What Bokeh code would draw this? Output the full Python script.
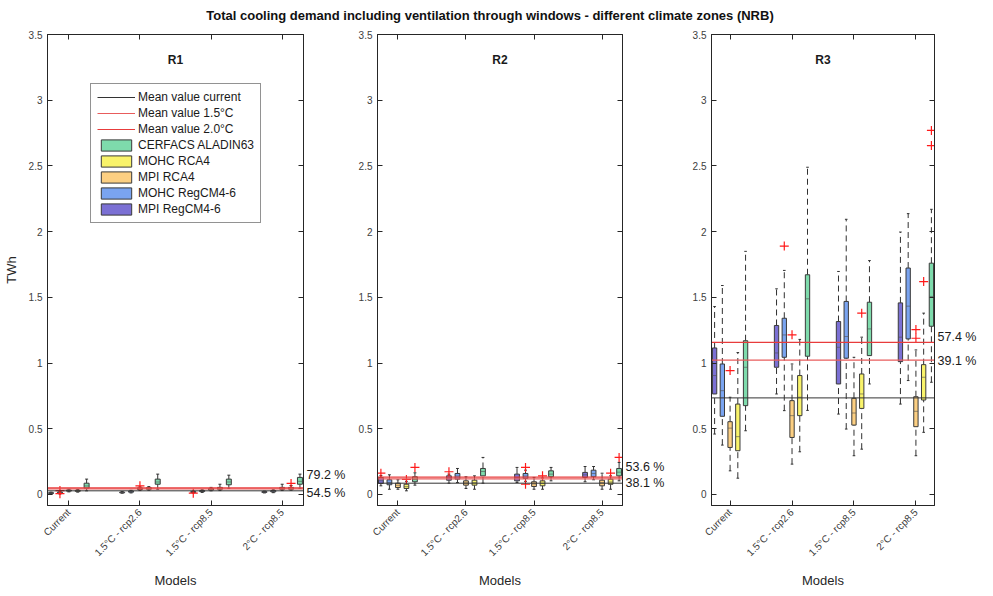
import math
from bokeh.plotting import figure
from bokeh.models import (Range1d, FixedTicker, NumeralTickFormatter, LinearAxis, Label,
                          Legend, LegendItem, Div, ColumnDataSource)
from bokeh.layouts import column, row
from bokeh.embed import file_html
from bokeh.resources import INLINE

# ---------------- data ----------------
TITLE = "Total cooling demand including ventilation through windows - different climate zones (NRB)"
REGIONS = ["R1", "R2", "R3"]
SCENARIOS = ["Current", "1.5°C - rcp2.6", "1.5°C - rcp8.5", "2°C - rcp8.5"]
# box order inside each scenario group (left -> right)
MODELS = ["MPI RegCM4-6", "MOHC RegCM4-6", "MPI RCA4", "MOHC RCA4", "CERFACS ALADIN63"]
MODEL_COLORS = ["#7b70d4", "#7aa4f0", "#fccf82", "#f9f36a", "#7edbac"]
LEGEND_MODELS = ["CERFACS ALADIN63", "MOHC RCA4", "MPI RCA4", "MOHC RegCM4-6", "MPI RegCM4-6"]

# values listed scenario by scenario, 5 models each (TWh)
R1_LO  = [0.003, 0.004, 0.020, 0.018, 0.028,  0.010, 0.012, 0.030, 0.032, 0.040,  0.012, 0.016, 0.028, 0.030, 0.046,  0.012, 0.014, 0.030, 0.032, 0.046]
R1_Q1  = [0.008, 0.010, 0.026, 0.024, 0.048,  0.013, 0.018, 0.038, 0.040, 0.078,  0.016, 0.022, 0.034, 0.040, 0.074,  0.016, 0.020, 0.040, 0.040, 0.078]
R1_MED = [0.011, 0.014, 0.030, 0.028, 0.065,  0.015, 0.022, 0.044, 0.046, 0.095,  0.019, 0.026, 0.040, 0.046, 0.095,  0.019, 0.025, 0.046, 0.046, 0.100]
R1_Q3  = [0.014, 0.018, 0.034, 0.032, 0.086,  0.018, 0.026, 0.050, 0.052, 0.117,  0.022, 0.030, 0.046, 0.054, 0.117,  0.022, 0.030, 0.054, 0.054, 0.130]
R1_HI  = [0.018, 0.022, 0.040, 0.038, 0.117,  0.022, 0.032, 0.058, 0.060, 0.155,  0.026, 0.036, 0.054, 0.078, 0.147,  0.026, 0.036, 0.078, 0.068, 0.155]
R1_OUT_GROUP = [0, 0, 1, 2, 3]
R1_OUT_MODEL = [1, 1, 2, 0, 3]
R1_OUT_VALUE = [0.030, 0.006, 0.066, 0.010, 0.084]

R2_LO  = [0.066, 0.040, 0.040, 0.028, 0.071,  0.086, 0.091, 0.046, 0.040, 0.086,  0.091, 0.100, 0.040, 0.040, 0.104,  0.097, 0.112, 0.040, 0.040, 0.104]
R2_Q1  = [0.084, 0.074, 0.053, 0.046, 0.097,  0.109, 0.117, 0.071, 0.071, 0.142,  0.104, 0.122, 0.061, 0.066, 0.135,  0.130, 0.135, 0.066, 0.078, 0.142]
R2_MED = [0.105, 0.090, 0.070, 0.060, 0.115,  0.125, 0.140, 0.088, 0.090, 0.175,  0.130, 0.140, 0.080, 0.085, 0.155,  0.150, 0.160, 0.090, 0.095, 0.170]
R2_Q3  = [0.130, 0.112, 0.086, 0.078, 0.135,  0.142, 0.160, 0.104, 0.109, 0.198,  0.155, 0.160, 0.097, 0.104, 0.180,  0.168, 0.185, 0.109, 0.117, 0.198]
R2_HI  = [0.145, 0.150, 0.112, 0.100, 0.165,  0.155, 0.198, 0.135, 0.142, 0.282,  0.206, 0.185, 0.130, 0.125, 0.206,  0.213, 0.213, 0.162, 0.142, 0.244]
R2_OUT_GROUP = [0, 0, 0, 1, 2, 2, 2, 3, 3]
R2_OUT_MODEL = [0, 3, 4, 0, 1, 1, 3, 3, 4]
R2_OUT_VALUE = [0.162, 0.115, 0.206, 0.173, 0.206, 0.078, 0.142, 0.162, 0.282]

R3_LO  = [0.460, 0.376, 0.180, 0.124, 0.485,  0.765, 0.638, 0.231, 0.325, 0.640,  0.612, 0.498, 0.295, 0.345, 0.841,  0.688, 0.867, 0.295, 0.473, 0.854]
R3_Q1  = [0.765, 0.595, 0.358, 0.333, 0.676,  0.968, 1.044, 0.434, 0.600, 1.052,  0.841, 1.037, 0.528, 0.655, 1.057,  1.011, 1.184, 0.516, 0.719, 1.280]
R3_MED = [0.905, 0.790, 0.505, 0.440, 0.968,  1.077, 1.214, 0.600, 0.740, 1.489,  1.120, 1.202, 0.620, 0.765, 1.260,  1.197, 1.433, 0.633, 0.892, 1.507]
R3_Q3  = [1.115, 0.993, 0.554, 0.688, 1.170,  1.286, 1.341, 0.714, 0.905, 1.672,  1.316, 1.469, 0.732, 0.917, 1.463,  1.458, 1.723, 0.744, 0.988, 1.760]
R3_HI  = [1.430, 1.590, 0.740, 1.080, 1.850,  1.565, 1.705, 0.993, 1.180, 2.490,  1.697, 2.094, 1.044, 1.197, 1.780,  1.997, 2.137, 1.100, 1.380, 2.170]
R3_OUT_GROUP = [0, 1, 1, 2, 3, 3, 3, 3, 3]
R3_OUT_MODEL = [2, 1, 2, 3, 2, 2, 3, 4, 4]
R3_OUT_VALUE = [0.943, 1.890, 1.215, 1.380, 1.255, 1.189, 1.620, 2.770, 2.655]

MEAN_CURRENT = [0.028, 0.086, 0.735]
MEAN_15 = [0.0433, 0.1188, 1.022]
MEAN_20 = [0.0502, 0.1321, 1.157]
PCT_15 = ["54.5 %", "38.1 %", "39.1 %"]
PCT_20 = ["79.2 %", "53.6 %", "57.4 %"]

# ---------------- layout / style ----------------
FONT = "Liberation Sans"
AXC = "#262626"
XLIM = (0.7, 4.3)
YLIM = (-0.0837, 3.5)
YTICKS = [0, 0.5, 1, 1.5, 2, 2.5, 3, 3.5]
OFFS = [-0.25, -0.125, 0.0, 0.125, 0.25]
BOXW = 0.07
TOP, FRAME_H, BOTTOM = 5, 471, 84
PANEL_LEFT = [43, 22, 37]
PANEL_FRAME = [256, 245, 223]
PANEL_RIGHT = [52, 52, 44]
PCT_LABEL_Y = [(0.008, 0.145), (0.091, 0.213), (1.013, 1.196)]


def make_panel(k, lo, q1, med, q3, hi, og, om, ov):
    left, fw, right = PANEL_LEFT[k], PANEL_FRAME[k], PANEL_RIGHT[k]
    p = figure(frame_width=fw, frame_height=FRAME_H,
               x_range=Range1d(*XLIM), y_range=Range1d(*YLIM),
               output_backend="svg", toolbar_location=None,
               min_border_left=left, min_border_right=right,
               min_border_top=TOP, min_border_bottom=BOTTOM)
    p.xgrid.visible = False
    p.ygrid.visible = False
    p.outline_line_color = AXC
    p.outline_line_width = 1
    p.outline_line_alpha = 1

    xa = p.xaxis[0]
    xa.ticker = FixedTicker(ticks=[1, 2, 3, 4])
    xa.major_label_overrides = {i + 1: s for i, s in enumerate(SCENARIOS)}
    xa.major_label_orientation = math.pi / 4
    xa.axis_label = "Models"
    ya = p.yaxis[0]
    ya.ticker = FixedTicker(ticks=YTICKS)
    ya.formatter = NumeralTickFormatter(format="0.[0]")
    if k == 0:
        ya.axis_label = "TWh"
    for ax in (xa, ya):
        ax.major_tick_in = 5
        ax.major_tick_out = 0
        ax.minor_tick_line_color = None
        ax.axis_line_color = AXC
        ax.major_tick_line_color = AXC
        ax.major_label_text_font = FONT
        ax.major_label_text_font_size = "10px"
        ax.major_label_text_color = "#404040"
        ax.major_label_standoff = 5
        ax.axis_label_text_font = FONT
        ax.axis_label_text_font_size = "13px"
        ax.axis_label_text_font_style = "normal"
        ax.axis_label_text_color = AXC
        ax.axis_label_standoff = 8
    ya.axis_label_standoff = 7

    # box ticks on top edge (no labels)
    top_ax = LinearAxis(ticker=FixedTicker(ticks=[], minor_ticks=[1, 2, 3, 4]),
                        major_label_standoff=0, major_tick_in=0, major_tick_out=0,
                        minor_tick_in=5, minor_tick_out=0, minor_tick_line_color=AXC,
                        axis_line_color=AXC)
    p.add_layout(top_ax, "above")
    # right edge: tick marks + percentage change labels
    y15, y20 = PCT_LABEL_Y[k]
    right_ax = LinearAxis(ticker=FixedTicker(ticks=[y15, y20], minor_ticks=YTICKS),
                          major_label_overrides={y15: PCT_15[k], y20: PCT_20[k]},
                          major_label_standoff=3, major_tick_in=0, major_tick_out=0,
                          minor_tick_in=5, minor_tick_out=0, minor_tick_line_color=AXC,
                          axis_line_color=AXC,
                          major_label_text_font=FONT, major_label_text_font_size="12.5px",
                          major_label_text_color="#1a1a1a")
    p.add_layout(right_ax, "right")

    box_renderers = {}
    for m, name in enumerate(MODELS):
        idx = [g * 5 + m for g in range(4)]
        xs = [g + 1 + OFFS[m] for g in range(4)]
        src = ColumnDataSource(dict(
            x=xs, xl=[x - BOXW / 2 for x in xs], xr=[x + BOXW / 2 for x in xs],
            cl=[x - BOXW * 0.3 for x in xs], cr=[x + BOXW * 0.3 for x in xs],
            lo=[lo[i] for i in idx], q1=[q1[i] for i in idx], med=[med[i] for i in idx],
            q3=[q3[i] for i in idx], hi=[hi[i] for i in idx]))
        p.segment(x0="x", y0="q3", x1="x", y1="hi", source=src, line_color="#303030",
                  line_width=1, line_dash="6 4")
        p.segment(x0="x", y0="lo", x1="x", y1="q1", source=src, line_color="#303030",
                  line_width=1, line_dash="6 4")
        p.segment(x0="cl", y0="hi", x1="cr", y1="hi", source=src, line_color="#303030", line_width=1)
        p.segment(x0="cl", y0="lo", x1="cr", y1="lo", source=src, line_color="#303030", line_width=1)
        r = p.vbar(x="x", width=BOXW, bottom="q1", top="q3", source=src,
                   fill_color=MODEL_COLORS[m], line_color="#3a3a3a", line_width=1)
        p.segment(x0="xl", y0="med", x1="xr", y1="med", source=src, line_color="#505050",
                  line_alpha=0.6, line_width=1)
        box_renderers[name] = r

    osrc = ColumnDataSource(dict(x=[g + 1 + OFFS[m] for g, m in zip(og, om)], y=ov))
    p.scatter(x="x", y="y", source=osrc, marker="cross", size=9, line_color="#ff1a1a",
              line_width=1.2)

    r_cur = p.line(x=list(XLIM), y=[MEAN_CURRENT[k]] * 2, line_color="#333333", line_width=1)
    r_15 = p.line(x=list(XLIM), y=[MEAN_15[k]] * 2, line_color="#e85c5c", line_width=1.2)
    r_20 = p.line(x=list(XLIM), y=[MEAN_20[k]] * 2, line_color="#e83c3c", line_width=1.2)

    p.add_layout(Label(x=(XLIM[0] + XLIM[1]) / 2, y=3.305, text=REGIONS[k], text_font=FONT,
                       text_font_size="12px", text_font_style="bold", text_align="center",
                       text_baseline="middle", text_color="#1a1a1a"))

    if k == 0:
        items = [LegendItem(label="Mean value current", renderers=[r_cur]),
                 LegendItem(label="Mean value 1.5°C", renderers=[r_15]),
                 LegendItem(label="Mean value 2.0°C", renderers=[r_20])]
        for name in LEGEND_MODELS:
            items.append(LegendItem(label=name, renderers=[box_renderers[name]]))
        leg = Legend(items=items, location=(43, 282), label_text_font=FONT,
                     label_text_font_size="12px", label_text_color="#1a1a1a",
                     glyph_width=38, glyph_height=14, label_height=14, spacing=2,
                     padding=6, margin=0, label_standoff=3,
                     border_line_color=AXC, border_line_width=1,
                     background_fill_color="white", background_fill_alpha=1)
        p.add_layout(leg)
    return p


panels = [
    make_panel(0, R1_LO, R1_Q1, R1_MED, R1_Q3, R1_HI, R1_OUT_GROUP, R1_OUT_MODEL, R1_OUT_VALUE),
    make_panel(1, R2_LO, R2_Q1, R2_MED, R2_Q3, R2_HI, R2_OUT_GROUP, R2_OUT_MODEL, R2_OUT_VALUE),
    make_panel(2, R3_LO, R3_Q1, R3_MED, R3_Q3, R3_HI, R3_OUT_GROUP, R3_OUT_MODEL, R3_OUT_VALUE),
]

title = Div(text=TITLE, width=970, height=19,
            styles={"text-align": "center", "font-weight": "bold", "font-size": "13px",
                    "font-family": FONT, "line-height": "22px", "color": "#111111",
                    "width": "970px", "white-space": "nowrap"})

layout = column(title, row(*panels, spacing=0), spacing=0)

with open("out.html", "w") as f:
    f.write(file_html(layout, INLINE))
